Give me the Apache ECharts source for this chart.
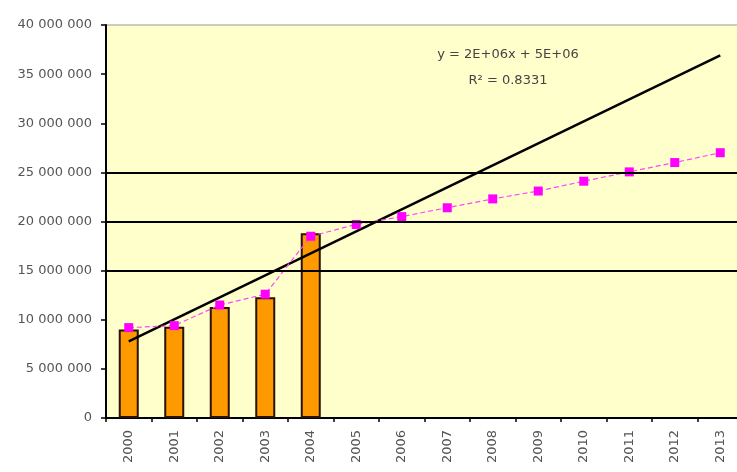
<!DOCTYPE html>
<html><head><meta charset="utf-8">
<script src="https://cdn.jsdelivr.net/npm/echarts@6/dist/echarts.min.js"></script>
<style>html,body{margin:0;padding:0;background:#fff}#c{width:737px;height:472px}</style>
</head><body><div id="c"></div>
<script>
var years = ['2000','2001','2002','2003','2004','2005','2006','2007','2008','2009','2010','2011','2012','2013'];
var barValues = [9000000, 9300000, 11300000, 12300000, 18800000, null, null, null, null, null, null, null, null, null];
var lineValues = [9200000, 9400000, 11500000, 12600000, 18500000, 19700000, 20500000, 21400000, 22300000, 23100000, 24100000, 25050000, 26000000, 27000000];
var trendPoints = [['2000', 7800000], ['2013', 36900000]];
var gridValues = [15000000, 20000000, 25000000];
var yTicks = {min: 0, max: 40000000, interval: 5000000};
var eqText = 'y = 2E+06x + 5E+06';
var r2Text = 'R² = 0.8331';

function fmt(v){ return String(v).replace(/\B(?=(\d{3})+(?!\d))/g, ' '); }
var FONT = 'DejaVu Sans, Verdana, sans-serif';

var chart = echarts.init(document.getElementById('c'), null, {renderer:'canvas'});
chart.setOption({
  animation: false,
  backgroundColor: '#ffffff',
  textStyle: {fontFamily: FONT},
  grid: {left: 106, top: 25, width: 637, height: 393, outerBoundsMode: 'none', containLabel: false,
         show: true, backgroundColor: '#FFFFCC', borderColor: '#999999', borderWidth: 1},
  xAxis: {
    type: 'category', data: years, boundaryGap: true,
    axisLine: {lineStyle: {color: '#000', width: 2}},
    axisTick: {show: true, inside: false, length: 4, lineStyle: {color: '#000', width: 1.5}},
    axisLabel: {rotate: 90, fontSize: 13, color: '#555', margin: 12, fontFamily: FONT}
  },
  yAxis: {
    type: 'value', min: yTicks.min, max: yTicks.max, interval: yTicks.interval,
    axisLine: {show: true, lineStyle: {color: '#000', width: 2}},
    axisTick: {show: true, length: 5, lineStyle: {color: '#000', width: 1.5}},
    splitLine: {show: false},
    axisLabel: {fontSize: 13, color: '#555', margin: 14, formatter: fmt, fontFamily: FONT}
  },
  series: [
    {
      type: 'bar', data: barValues, barWidth: 20,
      itemStyle: {color: '#FF9900', borderColor: '#2a1200', borderWidth: 2},
      markLine: {
        silent: true, symbol: 'none', label: {show: false},
        lineStyle: {color: '#000', width: 2, type: 'solid'},
        data: gridValues.map(function(v){ return {yAxis: v}; })
      },
      z: 2
    },
    {
      type: 'line', data: lineValues, symbol: 'rect', symbolSize: 9,
      itemStyle: {color: '#FF00FF'},
      lineStyle: {color: '#FF44FF', width: 1.2, type: [5, 3]},
      z: 4
    },
    {
      type: 'line', data: trendPoints, symbol: 'none',
      lineStyle: {color: '#000', width: 2.5},
      z: 3
    }
  ],
  graphic: [
    {type: 'text', x: 508, y: 55, style: {text: eqText, fontSize: 13, fill: '#444', align: 'center', verticalAlign: 'middle', fontFamily: FONT}},
    {type: 'text', x: 508, y: 81, style: {text: r2Text, fontSize: 13, fill: '#444', align: 'center', verticalAlign: 'middle', fontFamily: FONT}}
  ]
});
</script></body></html>
